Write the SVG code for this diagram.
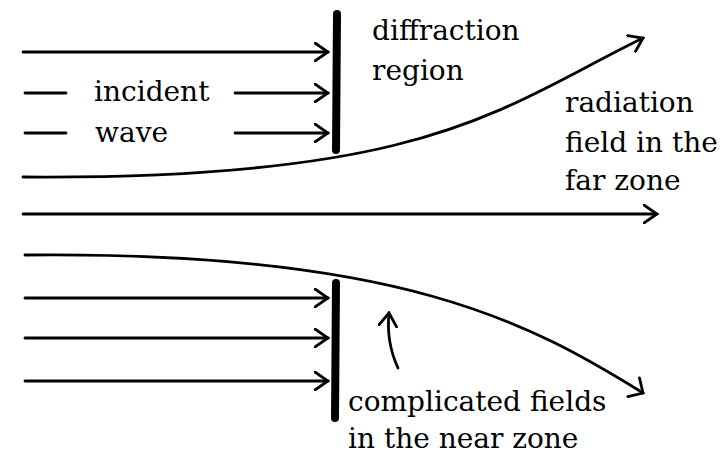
<svg xmlns="http://www.w3.org/2000/svg" width="726" height="453" viewBox="0 0 726 453">
  <style>
    .ln { fill: none; stroke: #000; stroke-width: 2.8; stroke-linecap: round; }
    .bar { fill: none; stroke: #000; stroke-width: 8; stroke-linecap: round; }
    .lbl { font-family: "DejaVu Serif", serif; font-size: 28px; fill: #000; }
  </style>
  <defs>
    <marker id="head" viewBox="0 0 16 20" refX="14" refY="10" markerWidth="16" markerHeight="20" markerUnits="userSpaceOnUse" orient="auto">
      <path d="M1,1 L14,10 L1,19" fill="none" stroke="#000" stroke-width="2.8" stroke-linecap="round" stroke-linejoin="miter"/>
    </marker>
    <marker id="headw" viewBox="0 0 16 26" refX="13" refY="13" markerWidth="16" markerHeight="26" markerUnits="userSpaceOnUse" orient="auto">
      <path d="M2,2 L13,13 L2,24" fill="none" stroke="#000" stroke-width="2.8" stroke-linecap="round"/>
    </marker>
  </defs>
  <rect width="726" height="453" fill="#fff"/>

  <g id="barrier-upper">
    <line class="bar" x1="337" y1="14" x2="336" y2="150"/>
  </g>
  <g id="barrier-lower">
    <line class="bar" x1="336" y1="283" x2="335" y2="418"/>
  </g>

  <g id="connectors">
    <line class="ln" x1="23" y1="52" x2="328" y2="52" marker-end="url(#head)"/>
    <line class="ln" x1="25" y1="93" x2="66" y2="93"/>
    <line class="ln" x1="235" y1="93" x2="328" y2="93" marker-end="url(#head)"/>
    <line class="ln" x1="25" y1="133" x2="66" y2="133"/>
    <line class="ln" x1="235" y1="133" x2="328" y2="133" marker-end="url(#head)"/>
    <path class="ln" d="M23,177 C430,180 500,108 643,38" marker-end="url(#head)"/>
    <line class="ln" x1="23" y1="214" x2="657" y2="214" marker-end="url(#head)"/>
    <path class="ln" d="M25,255 C400,251 530,323 643,393" marker-end="url(#headw)"/>
    <line class="ln" x1="25" y1="298" x2="328" y2="298" marker-end="url(#head)"/>
    <line class="ln" x1="25" y1="338" x2="328" y2="338" marker-end="url(#head)"/>
    <line class="ln" x1="25" y1="381" x2="328" y2="381" marker-end="url(#head)"/>
    <path class="ln" d="M398,368 Q386,342 389,313" stroke-width="3.2" marker-end="url(#head)"/>
  </g>

  <g id="label-incident">
    <text class="lbl" x="94" y="101">incident</text>
    <text class="lbl" x="95" y="142">wave</text>
  </g>
  <g id="label-diffraction">
    <text class="lbl" x="372" y="40">diffraction</text>
    <text class="lbl" x="372" y="80">region</text>
  </g>
  <g id="label-radiation">
    <text class="lbl" x="565" y="112">radiation</text>
    <text class="lbl" x="565" y="152">field in the</text>
    <text class="lbl" x="565" y="190">far zone</text>
  </g>
  <g id="label-complicated">
    <text class="lbl" x="348" y="411">complicated fields</text>
    <text class="lbl" x="348" y="448">in the near zone</text>
  </g>
</svg>
